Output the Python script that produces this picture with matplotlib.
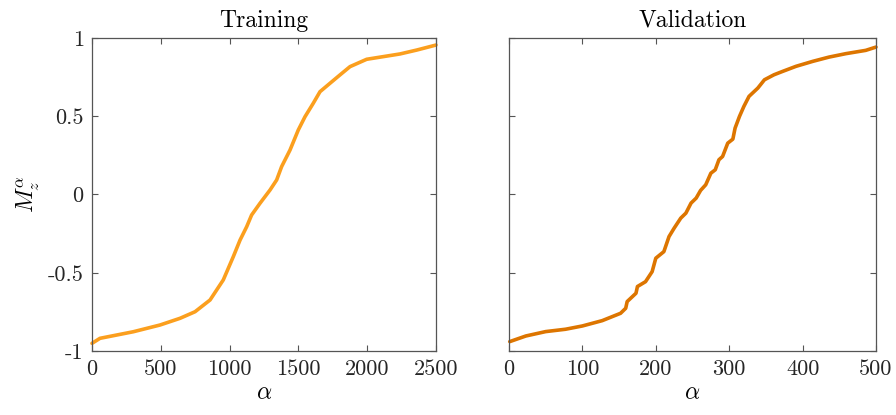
"""Sorted M_z^alpha values for the training and validation sets."""
import matplotlib
matplotlib.use("Agg")
import matplotlib.pyplot as plt

plt.rcParams["mathtext.fontset"] = "cm"
plt.rcParams["font.family"] = ["cmr10", "DejaVu Serif"]
plt.rcParams["axes.unicode_minus"] = False
plt.rcParams["axes.formatter.use_mathtext"] = True

# training curve (index alpha, value M_z)
train_alpha = [0, 58, 300, 494, 640, 749, 858, 954, 1027, 1076, 1124, 1160,
               1221, 1294, 1342, 1378, 1439, 1499, 1548, 1608, 1657, 1730,
               1802, 1875, 1996, 2117, 2238, 2360, 2500]
train_mz = [-0.951, -0.919, -0.877, -0.834, -0.791, -0.749, -0.674, -0.546,
            -0.397, -0.291, -0.206, -0.131, -0.056, 0.029, 0.093, 0.178,
            0.284, 0.412, 0.497, 0.583, 0.657, 0.711, 0.764, 0.817, 0.864,
            0.881, 0.898, 0.923, 0.955]

# validation curve
val_alpha = [1, 23, 50, 77, 100, 127, 152, 159, 161, 173, 175, 186, 195, 200,
             211, 218, 225, 234, 241, 248, 255, 261, 268, 275, 281, 286, 291,
             298, 305, 308, 314, 320, 327, 339, 348, 361, 373, 391, 414, 436,
             459, 486, 500]
val_mz = [-0.940, -0.904, -0.876, -0.861, -0.840, -0.806, -0.759, -0.727,
          -0.684, -0.631, -0.588, -0.557, -0.493, -0.407, -0.365, -0.269,
          -0.215, -0.151, -0.119, -0.055, -0.023, 0.026, 0.062, 0.136, 0.158,
          0.222, 0.243, 0.328, 0.354, 0.424, 0.499, 0.563, 0.627, 0.680,
          0.733, 0.765, 0.787, 0.819, 0.851, 0.878, 0.900, 0.921, 0.942]

y_ticks = [-1, -0.5, 0, 0.5, 1]
y_tick_labels = ["-1", "-0.5", "0", "0.5", "1"]
train_ticks = [0, 500, 1000, 1500, 2000, 2500]
val_ticks = [0, 100, 200, 300, 400, 500]

TRAIN_COLOR = "#fb9f1e"
VAL_COLOR = "#dd7500"
SPINE_COLOR = "#555555"
FS = 16


def style_axes(ax, xticks, xmax):
    ax.set_xlim(0, xmax)
    ax.set_ylim(-1, 1)
    ax.set_xticks(xticks)
    ax.set_xticklabels([str(t) for t in xticks], fontsize=FS, color="#262626")
    ax.set_yticks(y_ticks)
    ax.tick_params(direction="in", top=True, right=True, length=4,
                   width=0.8, color=SPINE_COLOR, pad=6)
    for sp in ax.spines.values():
        sp.set_color(SPINE_COLOR)
        sp.set_linewidth(0.9)
    ax.set_xlabel(r"$\alpha$", fontsize=FS + 1, labelpad=2)


fig = plt.figure(figsize=(8.96, 4.15), dpi=100)
ax1 = fig.add_axes([92 / 896, 1 - 351 / 415, 344 / 896, 313 / 415])
ax2 = fig.add_axes([509 / 896, 1 - 351 / 415, 367 / 896, 313 / 415])

ax1.plot(train_alpha, train_mz, color=TRAIN_COLOR, linewidth=2.6,
         solid_capstyle="round", clip_on=False)
style_axes(ax1, train_ticks, 2500)
ax1.set_yticklabels(y_tick_labels, fontsize=FS, color="#262626")
ax1.set_ylabel(r"$M_z^\alpha$", fontsize=FS + 1, labelpad=4)
ax1.set_title("Training", fontsize=FS + 1, pad=8)

ax2.plot(val_alpha, val_mz, color=VAL_COLOR, linewidth=2.6,
         solid_capstyle="round", clip_on=False)
style_axes(ax2, val_ticks, 500)
ax2.set_yticklabels([])
ax2.set_title("Validation", fontsize=FS + 1, pad=8)

fig.savefig("out.png", dpi=100)
